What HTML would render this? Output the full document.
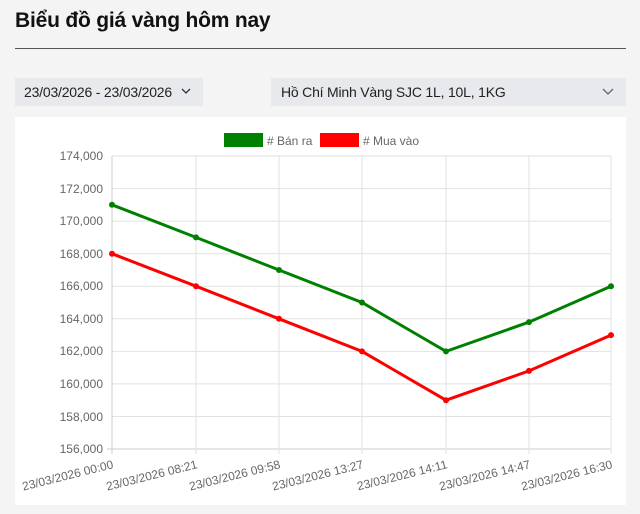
<!DOCTYPE html>
<html><head><meta charset="utf-8"><style>
body{margin:0;width:640px;height:514px;background:#f4f4f4;font-family:"Liberation Sans",sans-serif;position:relative;overflow:hidden}
.t{position:absolute;left:15px;top:9px;font-size:21px;font-weight:bold;color:#111;letter-spacing:-0.2px}
.hr{position:absolute;left:15px;top:48px;width:611px;height:1px;background:#555}
.dd{position:absolute;top:78px;height:28px;background:#e8e9ec;font-size:14px;color:#222;line-height:28px}
.p{position:absolute;left:15px;top:117px;width:611px;height:388px;background:#fff}
svg{position:absolute;left:0;top:0}
</style></head><body>
<div class="t">Biểu đồ giá vàng hôm nay</div>
<div class="hr"></div>
<div class="dd" style="left:15px;width:188px;padding-left:9px;box-sizing:border-box;letter-spacing:-0.2px">23/03/2026 - 23/03/2026</div>
<div class="dd" style="left:271px;width:355px;padding-left:10px;box-sizing:border-box;letter-spacing:-0.2px">Hồ Chí Minh Vàng SJC 1L, 10L, 1KG</div>
<div class="p"></div>
<svg width="640" height="514" font-family="Liberation Sans, sans-serif">
<polyline points="182,89 186,93 190,89" fill="none" stroke="#333" stroke-width="1.3"/>
<polyline points="603,89 608,94 613,89" fill="none" stroke="#666" stroke-width="1.3"/>
<rect x="224" y="133" width="39" height="14" fill="#008000"/>
<text x="267" y="145" font-size="12" fill="#666"># Bán ra</text>
<rect x="320" y="133" width="39" height="14" fill="#ff0000"/>
<text x="363" y="145" font-size="12" fill="#666"># Mua vào</text>
<g stroke="#e2e2e2" stroke-width="1">
<line x1="112" y1="156.0" x2="611" y2="156.0"/><line x1="112" y1="188.6" x2="611" y2="188.6"/><line x1="112" y1="221.1" x2="611" y2="221.1"/><line x1="112" y1="253.7" x2="611" y2="253.7"/><line x1="112" y1="286.2" x2="611" y2="286.2"/><line x1="112" y1="318.8" x2="611" y2="318.8"/><line x1="112" y1="351.4" x2="611" y2="351.4"/><line x1="112" y1="383.9" x2="611" y2="383.9"/><line x1="112" y1="416.5" x2="611" y2="416.5"/><line x1="107" y1="449" x2="611" y2="449" stroke="#ccc"/>
<line x1="112" y1="156" x2="112" y2="454" stroke="#ccc"/><line x1="196" y1="156" x2="196" y2="454"/><line x1="279" y1="156" x2="279" y2="454"/><line x1="362" y1="156" x2="362" y2="454"/><line x1="446" y1="156" x2="446" y2="454"/><line x1="529" y1="156" x2="529" y2="454"/><line x1="611" y1="156" x2="611" y2="454"/>
</g>
<g font-size="12" fill="#666" text-anchor="end">
<text x="103" y="160">174,000</text><text x="103" y="193">172,000</text><text x="103" y="225">170,000</text><text x="103" y="258">168,000</text><text x="103" y="290">166,000</text><text x="103" y="323">164,000</text><text x="103" y="355">162,000</text><text x="103" y="388">160,000</text><text x="103" y="421">158,000</text><text x="103" y="453">156,000</text>
</g>
<g font-size="12" fill="#666" text-anchor="end">
<text transform="translate(114,468) rotate(-14)">23/03/2026 00:00</text>
<text transform="translate(198,468) rotate(-14)">23/03/2026 08:21</text>
<text transform="translate(281,468) rotate(-14)">23/03/2026 09:58</text>
<text transform="translate(364,468) rotate(-14)">23/03/2026 13:27</text>
<text transform="translate(448,468) rotate(-14)">23/03/2026 14:11</text>
<text transform="translate(531,468) rotate(-14)">23/03/2026 14:47</text>
<text transform="translate(613,468) rotate(-14)">23/03/2026 16:30</text>
</g>
<polyline fill="none" stroke="#008000" stroke-width="3" points="112,204.8 196,237.4 279,270.0 362,302.5 446,351.4 529,322.1 611,286.2"/>
<polyline fill="none" stroke="#ff0000" stroke-width="3" points="112,253.7 196,286.2 279,318.8 362,351.4 446,400.2 529,370.9 611,335.1"/>
<g fill="#008000"><circle cx="112" cy="204.8" r="3"/><circle cx="196" cy="237.4" r="3"/><circle cx="279" cy="270" r="3"/><circle cx="362" cy="302.5" r="3"/><circle cx="446" cy="351.4" r="3"/><circle cx="529" cy="322.1" r="3"/><circle cx="611" cy="286.2" r="3"/></g>
<g fill="#ff0000"><circle cx="112" cy="253.7" r="3"/><circle cx="196" cy="286.2" r="3"/><circle cx="279" cy="318.8" r="3"/><circle cx="362" cy="351.4" r="3"/><circle cx="446" cy="400.2" r="3"/><circle cx="529" cy="370.9" r="3"/><circle cx="611" cy="335.1" r="3"/></g>
</svg>
</body></html>
